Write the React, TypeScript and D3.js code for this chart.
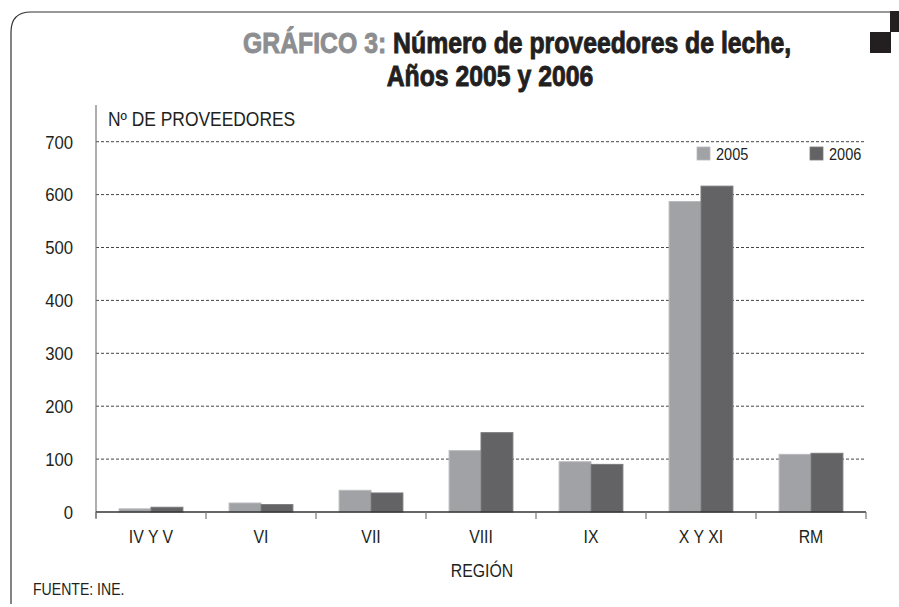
import React from "react";
import * as d3 from "d3";

const categories = ["IV Y V", "VI", "VII", "VIII", "IX", "X Y XI", "RM"];
const seriesNames = ["2005", "2006"];
const values2005 = [6, 17, 41, 116, 95, 587, 109];
const values2006 = [9, 14, 36, 150, 90, 616, 111];
const yTicks = [0, 100, 200, 300, 400, 500, 600, 700];

const W = 899;
const H = 607;
const FONT = "'Liberation Sans', Arial, Helvetica, sans-serif";
const SX = 0.88;
const colors = ["#a1a2a6", "#636365"];
const strokes = ["#b9babd", "#7a7a7c"];

type TProps = {
  x: number;
  y: number;
  size: number;
  anchor?: "start" | "middle" | "end";
  weight?: string;
  fill?: string;
  dy?: string;
  sx?: number;
  heavy?: boolean;
  children: React.ReactNode;
};

function T({ x, y, size, anchor = "start", weight = "normal", fill = "#231f20", dy, sx = SX, heavy = false, children }: TProps) {
  return (
    <text
      transform={`translate(${x},${y}) scale(${sx},1)`}
      textAnchor={anchor}
      fontFamily={FONT}
      fontSize={size}
      fontWeight={weight}
      fill={fill}
      stroke={heavy ? fill : undefined}
      strokeWidth={heavy ? 0.9 : undefined}
      dy={dy}
    >
      {children}
    </text>
  );
}

export default function App() {
  const left = 96, right = 866, top = 105, bottom = 512;
  const x0 = d3.scaleBand<string>().domain(categories).range([left, right]).padding(0);
  const bw = x0.bandwidth();
  const x1 = d3.scaleBand<string>().domain(seriesNames).range([bw * 0.21, bw * 0.79]).padding(0);
  const y = d3.scaleLinear().domain([0, 700]).range([bottom, 141.7]);
  const data = [values2005, values2006];
  const boundaries = categories.map((c) => x0(c) as number).concat([right]);

  return (
    <div>
      <style>{`body{margin:0}`}</style>
      <svg width={W} height={H} style={{ display: "block", background: "#fff" }}>
        {/* frame */}
        <path d="M11,604 L11,32 Q11,12 31,12 L890,12" fill="none" stroke="#333" strokeWidth={1.2} />
        <rect x={890} y={11} width={9} height={21} fill="#231f20" />
        <rect x={870} y={32} width={21} height={21} fill="#231f20" />

        {/* title */}
        <T x={243} y={53} size={29} weight="bold" sx={0.855} heavy>
          <tspan fill="#8d8e91" stroke="#8d8e91">GRÁFICO 3:</tspan>
          <tspan> Número de proveedores de leche,</tspan>
        </T>
        <T x={490} y={86} size={29} weight="bold" anchor="middle" sx={0.855} heavy>
          Años 2005 y 2006
        </T>

        {/* grid lines */}
        {yTicks.filter((t) => t > 0).map((t) => (
          <line key={t} x1={left} x2={right} y1={y(t)} y2={y(t)} stroke="#444" strokeWidth={1} strokeDasharray="3,2" />
        ))}

        {/* y labels */}
        {yTicks.map((t) => (
          <T key={t} x={73} y={y(t)} dy="0.36em" anchor="end" size={19}>
            {t}
          </T>
        ))}

        {/* bars */}
        {categories.map((c, i) => (
          <g key={c} transform={`translate(${x0(c)},0)`}>
            {seriesNames.map((s, j) => {
              const v = data[j][i];
              return (
                <rect
                  key={s}
                  x={x1(s) as number}
                  y={y(v)}
                  width={x1.bandwidth()}
                  height={bottom - y(v)}
                  fill={colors[j]}
                  stroke={strokes[j]}
                  strokeWidth={1}
                />
              );
            })}
          </g>
        ))}

        {/* y axis */}
        <line x1={left} x2={left} y1={top} y2={bottom + 6} stroke="#777" strokeWidth={1.2} />
        {/* x axis */}
        <line x1={left} x2={right} y1={bottom} y2={bottom} stroke="#333" strokeWidth={1.5} />
        {boundaries.map((b, i) => (
          <line key={i} x1={b} x2={b} y1={bottom} y2={bottom + 7} stroke="#777" strokeWidth={1.2} />
        ))}

        {/* category labels */}
        {categories.map((c) => (
          <T key={c} x={(x0(c) as number) + bw / 2} y={543} anchor="middle" size={18}>
            {c}
          </T>
        ))}

        <T x={482} y={577} anchor="middle" size={18}>REGIÓN</T>
        <T x={33} y={595} size={16}>FUENTE: INE.</T>
        <T x={108} y={126} size={19.8}>Nº DE PROVEEDORES</T>

        {/* legend */}
        {seriesNames.map((s, j) => {
          const lx = [697, 810][j];
          return (
            <g key={s}>
              <rect x={lx} y={147} width={13} height={13} fill={colors[j]} stroke={strokes[j]} strokeWidth={0.8} />
              <T x={lx + 19} y={160} size={16.5}>{s}</T>
            </g>
          );
        })}
      </svg>
    </div>
  );
}
